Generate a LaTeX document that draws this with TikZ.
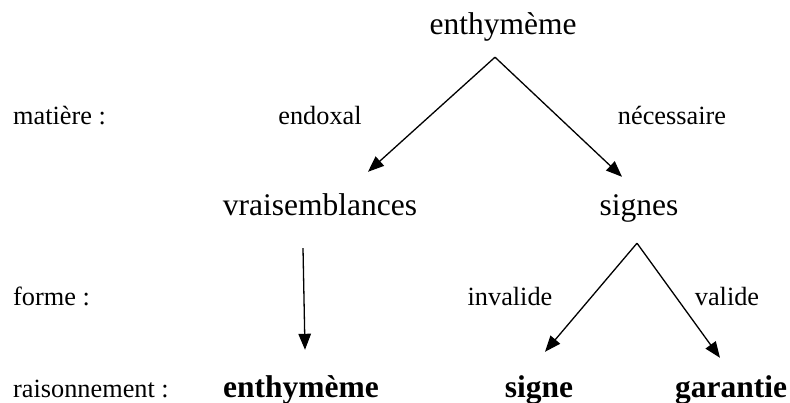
\documentclass[tikz,border=0pt]{standalone}
\usepackage{fontspec}
\setmainfont{Liberation Serif}
\usetikzlibrary{arrows.meta}

\begin{document}
\begin{tikzpicture}[
    x=1pt, y=-1pt,
    small/.style={
        inner sep=0pt,
        anchor=base,
        font=\fontsize{26.3}{30}\selectfont,
    },
    term/.style={
        inner sep=0pt,
        anchor=base,
        text height=22pt,
        text depth=7pt,
        font=\fontsize{31.5}{36}\selectfont,
    },
    result/.style={
        term,
        font=\fontsize{31.5}{36}\selectfont\bfseries,
    },
    arr/.style={
        -{Triangle[length=16pt,width=12.5pt]},
        line width=1.3pt,
    }
]
\useasboundingbox (0,0) rectangle (790,403);

\node[term] (enth) at (503,35) {enthymème};

\node[small, anchor=base west] (matiere) at (13,125) {matière :};
\node[small] (endoxal) at (320,125) {endoxal};
\node[small] (necess) at (672,125) {nécessaire};

\node[term] (vrai) at (320,216) {vraisemblances};
\node[term] (signes) at (639,216) {signes};

\node[small, anchor=base west] (forme) at (13,306) {forme :};
\node[small] (invalide) at (510,306) {invalide};
\node[small] (valide) at (727,306) {valide};

\node[small, anchor=base west] (raison) at (13,397) {raisonnement :};
\node[result] (renth) at (301,397) {enthymème};
\node[result] (rsigne) at (539,397) {signe};
\node[result] (rgarantie) at (731,397) {garantie};

\draw[arr] ([xshift=-8pt,yshift=-15pt]enth.south) -- ([xshift=48pt,yshift=22pt]vrai.north);
\draw[arr] ([xshift=-8pt,yshift=-15pt]enth.south) -- ([xshift=-17pt,yshift=17pt]signes.north);

\draw[arr] ([xshift=-17pt,yshift=-25pt]vrai.south) -- ([xshift=4pt,yshift=25pt]renth.north);

\draw[arr] ([xshift=-2pt,yshift=-20pt]signes.south) -- ([xshift=6pt,yshift=23pt]rsigne.north);
\draw[arr] ([xshift=-2pt,yshift=-20pt]signes.south) -- ([xshift=-11pt,yshift=17pt]rgarantie.north);
\end{tikzpicture}
\end{document}
